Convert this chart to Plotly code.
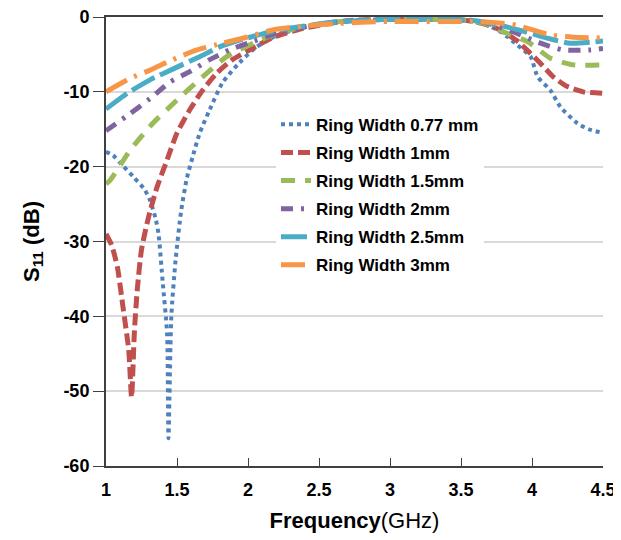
import plotly.graph_objects as go

names = ["Ring Width 0.77 mm", "Ring Width 1mm", "Ring Width 1.5mm",
         "Ring Width 2mm", "Ring Width 2.5mm", "Ring Width 3mm"]

x_077 = [1.0, 1.05, 1.1, 1.2, 1.27, 1.31, 1.35, 1.37, 1.40, 1.43, 1.44, 1.46, 1.49, 1.53, 1.57, 1.61, 1.66, 1.73,
         1.82, 1.94, 2.06, 2.2, 2.35, 2.5, 2.7, 3.0, 3.3, 3.5, 3.6, 3.7, 3.78, 3.83, 3.9, 3.99, 4.04, 4.13, 4.2,
         4.32, 4.4, 4.5]
y_077 = [-18, -18.5, -19.5, -21.5, -23, -24.5, -27, -29, -35.6, -42.2, -56.3, -40, -32.5, -25.8, -21.5, -18.7,
         -15.5, -12.4, -8.8, -6.1, -4.0, -2.5, -1.6, -1.0, -0.5, -0.3, -0.3, -0.4, -0.7, -1.2, -2, -2.7, -3.8,
         -5.3, -8, -9.8, -12, -14.2, -15, -15.5]

x_1 = [1.0, 1.04, 1.08, 1.12, 1.16, 1.18, 1.20, 1.22, 1.25, 1.30, 1.36, 1.43, 1.50, 1.59, 1.68, 1.78, 1.89, 2.04,
       2.18, 2.35, 2.5, 2.7, 3.0, 3.3, 3.5, 3.62, 3.75, 3.89, 3.98, 4.06, 4.15, 4.25, 4.36, 4.5]
y_1 = [-29, -30.5, -33.4, -38.8, -44.5, -50.8, -42, -36.5, -31.1, -26.7, -22.7, -19.1, -15.5, -12.4, -9.8, -7.5,
       -5.7, -4.1, -2.7, -1.7, -1.1, -0.5, -0.3, -0.3, -0.4, -0.7, -1.5, -3.1, -4.7, -6.2, -8, -9.3, -10, -10.2]

x_15 = [1.0, 1.03, 1.17, 1.33, 1.50, 1.68, 1.85, 2.06, 2.2, 2.4, 2.6, 3.0, 3.4, 3.6, 3.7, 3.8, 3.97, 4.13, 4.29, 4.5]
y_15 = [-22.3, -21.8, -17.8, -14.2, -11.1, -8, -5.3, -3.3, -2.2, -1.3, -0.7, -0.3, -0.3, -0.6, -1.1, -2, -3.3,
        -5.5, -6.4, -6.4]

x_2 = [1.0, 1.17, 1.31, 1.45, 1.59, 1.73, 1.87, 2.0, 2.2, 2.4, 2.6, 3.0, 3.4, 3.6, 3.7, 3.87, 4.06, 4.22, 4.41, 4.5]
y_2 = [-15.2, -12.9, -10.9, -8.7, -7.3, -5.7, -4.4, -3.5, -2.2, -1.3, -0.7, -0.3, -0.3, -0.5, -0.9, -2, -3.5,
       -4.4, -4.4, -4.2]

x_25 = [1.0, 1.15, 1.31, 1.5, 1.66, 1.8, 1.94, 2.2, 2.4, 2.6, 3.0, 3.4, 3.6, 3.75, 3.96, 4.1, 4.27, 4.5]
y_25 = [-12.3, -10.2, -8.4, -6.7, -5.3, -4, -3.1, -1.8, -1.2, -0.7, -0.3, -0.3, -0.5, -1, -2, -2.8, -3.5, -3.2]

x_3 = [1.0, 1.17, 1.31, 1.47, 1.64, 1.82, 1.99, 2.18, 2.4, 2.6, 2.8, 3.0, 3.4, 3.6, 3.77, 3.89, 4.13, 4.29, 4.5]
y_3 = [-10, -8.2, -7.1, -5.7, -4.4, -3.5, -2.7, -1.7, -1.2, -0.9, -0.7, -0.6, -0.6, -0.6, -0.8, -1.1, -2.4,
       -2.7, -2.8]

x_ticks = [1, 1.5, 2, 2.5, 3, 3.5, 4, 4.5]
y_ticks = [-60, -50, -40, -30, -20, -10, 0]

series = [(x_077, y_077), (x_1, y_1), (x_15, y_15), (x_2, y_2), (x_25, y_25), (x_3, y_3)]
colors = ["#4F81BD", "#C0504D", "#9BBB59", "#8064A2", "#4BACC6", "#F79646"]
dashes = ["dot", "12px,5px", "14px,10px", "12px,8px,3px,8px", "26px,6px", "24px,8px,3px,8px"]
widths = [4, 5, 5, 5, 5, 5]

fig = go.Figure()
for i, ((xs, ys), nm, c, d, w) in enumerate(zip(series, names, colors, dashes, widths)):
    fig.add_trace(go.Scatter(x=xs, y=ys, mode="lines", name="<b>%s</b>" % nm, legendgroup="g%d" % i,
                             line=dict(color=c, dash=d, width=w, shape="spline", smoothing=0.6)))

fig.update_layout(
    width=613, height=532,
    margin=dict(l=98, r=18, t=9, b=74),
    paper_bgcolor="white", plot_bgcolor="white",
    font=dict(family="Arial, Liberation Sans, sans-serif", color="black"),
    legend=dict(x=0.342, y=0.80, xanchor="left", yanchor="top", bgcolor="white",
                font=dict(size=17, family="Arial, Liberation Sans, sans-serif", color="black"),
                tracegroupgap=3),
    showlegend=True,
)
fig.update_xaxes(range=[1, 4.5], tickvals=x_ticks, ticktext=["<b>%g</b>" % v for v in x_ticks],
                 tickfont=dict(size=18), showgrid=False, zeroline=False, automargin=False,
                 ticklabeloverflow="allow", ticklabelstandoff=6,
                 showline=True, linecolor="#404040", linewidth=2, mirror=True,
                 ticks="inside", ticklen=8, tickcolor="#404040",
                 title=dict(text="<b>Frequency</b>(GHz)", font=dict(size=22), standoff=14))
fig.update_yaxes(range=[-60, 0], tickvals=y_ticks, ticktext=["<b>%g</b>" % v for v in y_ticks],
                 tickfont=dict(size=18), showgrid=True, gridcolor="#D9D9D9", gridwidth=1.5,
                 ticklabeloverflow="allow",
                 zeroline=False, showline=True, linecolor="#404040", linewidth=2, automargin=False,
                 ticks="outside", ticklen=11, tickcolor="#404040",
                 title=dict(text="<b>S<sub>11</sub> (dB)</b>", font=dict(size=22), standoff=18))

fig.write_html("out.html")
